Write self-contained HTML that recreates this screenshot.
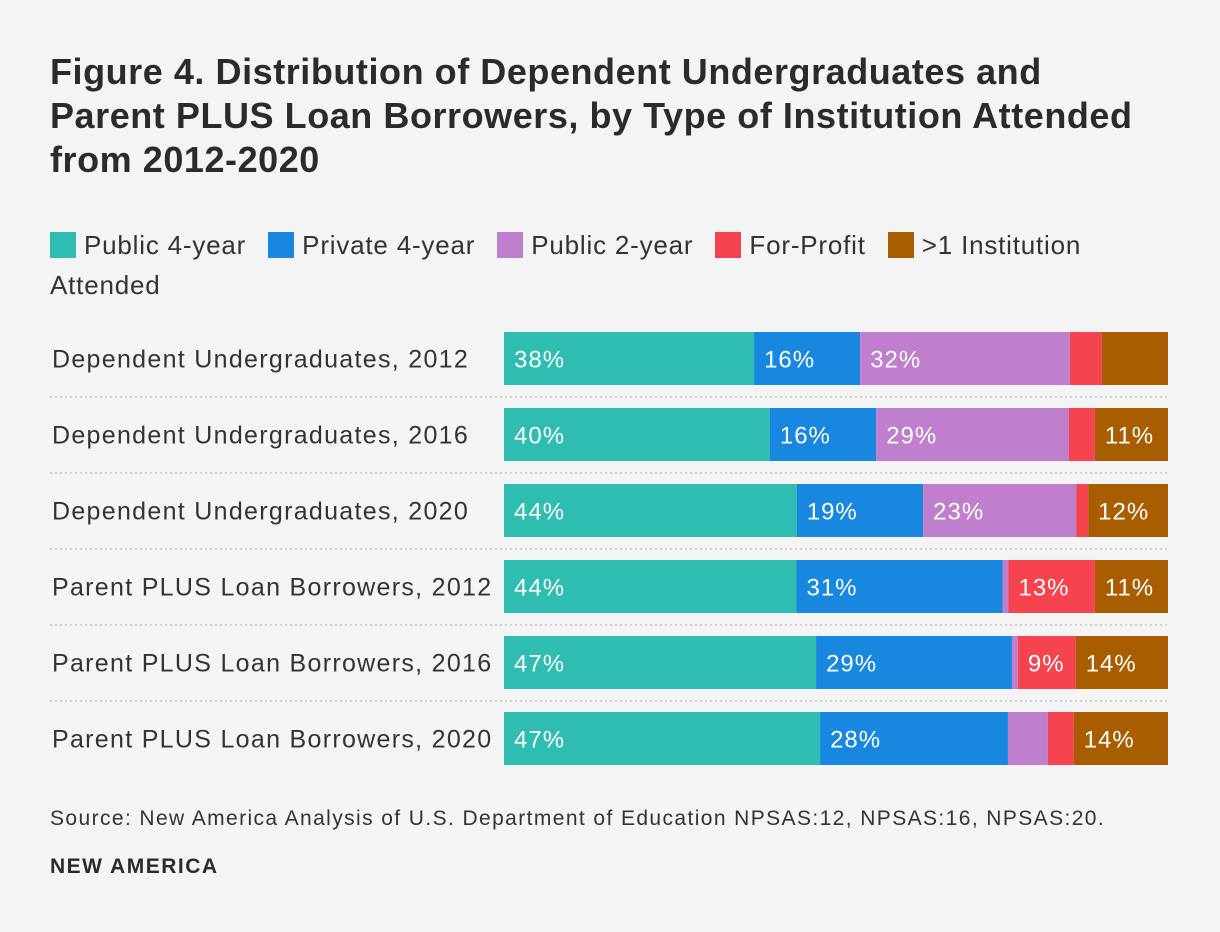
<!DOCTYPE html>
<html><head><meta charset="utf-8"><style>
body{margin:0;background:#f4f4f4;font-family:"Liberation Sans",sans-serif;color:#333}
#wrap{position:relative;width:1220px;height:932px;overflow:hidden}
h1{position:absolute;left:50px;top:50px;margin:0;font-size:36px;line-height:44px;font-weight:bold;color:#2b2b2b;width:1160px;letter-spacing:0.55px;white-space:nowrap}
.leg{position:absolute;left:50px;top:225px;font-size:26px;line-height:40px;color:#333;width:1060px;letter-spacing:0.8px}
.sw{display:inline-block;width:26px;height:26px;vertical-align:-4px;margin-right:8px}
.li{margin-right:14px}
.src{position:absolute;left:50px;top:807px;font-size:21px;color:#333;letter-spacing:1.4px;white-space:nowrap}
.brand{position:absolute;left:50px;top:855px;font-size:21px;font-weight:bold;color:#2b2b2b;letter-spacing:1.5px}
</style></head><body><div id="wrap">
<h1>Figure 4. Distribution of Dependent Undergraduates and<br>Parent PLUS Loan Borrowers, by Type of Institution Attended<br>from 2012-2020</h1>
<div class="leg">
<span class="li"><span class="sw" style="background:#2fbdb1"></span>Public 4-year</span>
<span class="li"><span class="sw" style="background:#1787e0"></span>Private 4-year</span>
<span class="li"><span class="sw" style="background:#bf7fcc"></span>Public 2-year</span>
<span class="li"><span class="sw" style="background:#f5434f"></span>For-Profit</span>
<span><span class="sw" style="background:#a85e00"></span>&gt;1 Institution<br>Attended</span>
</div>
<svg id="chart" width="1220" height="932" style="position:absolute;left:0;top:0"></svg>
<div class="src">Source: New America Analysis of U.S. Department of Education NPSAS:12, NPSAS:16, NPSAS:20.</div>
<div class="brand">NEW AMERICA</div>
</div>
<script>
const categories=["Dependent Undergraduates, 2012","Dependent Undergraduates, 2016","Dependent Undergraduates, 2020","Parent PLUS Loan Borrowers, 2012","Parent PLUS Loan Borrowers, 2016","Parent PLUS Loan Borrowers, 2020"];
const public4=[37.7,40,44,44,47,47.6];
const private4=[16,16,19,31,29.5,28.3];
const public2=[31.6,29,23,0.9,0.9,6];
const forProfit=[4.8,3.9,1.8,13,8.7,3.9];
const multi=[10,11,12,11,13.9,14.2];
const public4Labels=["38%","40%","44%","44%","47%","47%"];
const private4Labels=["16%","16%","19%","31%","29%","28%"];
const public2Labels=["32%","29%","23%","","",""];
const forProfitLabels=["","","","13%","9%",""];
const multiLabels=["","11%","12%","11%","14%","14%"];
const series=[
 {name:"public-4-year",vals:public4,labels:public4Labels,color:"#2fbdb1"},
 {name:"private-4-year",vals:private4,labels:private4Labels,color:"#1787e0"},
 {name:"public-2-year",vals:public2,labels:public2Labels,color:"#bf7fcc"},
 {name:"for-profit",vals:forProfit,labels:forProfitLabels,color:"#f5434f"},
 {name:"multiple-institutions",vals:multi,labels:multiLabels,color:"#a85e00"}];
const NS="http://www.w3.org/2000/svg",svg=document.getElementById('chart');
const x0=504,x1=1168,top0=332,step=76,bh=53;
function mk(t,a){const e=document.createElementNS(NS,t);for(const k in a)e.setAttribute(k,a[k]);svg.appendChild(e);return e;}
categories.forEach((c,i)=>{
 const y=top0+i*step;
 const tot=series.reduce((s,se)=>s+se.vals[i],0);
 const xs=v=>v/tot*(x1-x0);
 const t=mk('text',{x:52,y:y+bh/2+9,'font-size':25,'letter-spacing':1.3,fill:'#333','font-family':'Liberation Sans, sans-serif'});
 t.textContent=c;
 
 
 if(i<categories.length-1){
  const l=mk('line',{x1:50,x2:x1,y1:y+bh+12,y2:y+bh+12,stroke:'#c8c8c8','stroke-width':1.5,'stroke-dasharray':'2,3'});
  
  
 }
 let cx=x0;
 series.forEach(se=>{
  const w=xs(se.vals[i]);
  const r=mk('rect',{x:cx,y:y,width:w,height:bh,fill:se.color});
  
  
  if(se.labels[i]){
   const tt=mk('text',{x:cx+10,y:y+bh/2+9,'font-size':24,'letter-spacing':1,fill:'#fff','font-family':'Liberation Sans, sans-serif'});
   tt.textContent=se.labels[i];
   
   
  }
  cx+=w;
 });
});
</script></body></html>
